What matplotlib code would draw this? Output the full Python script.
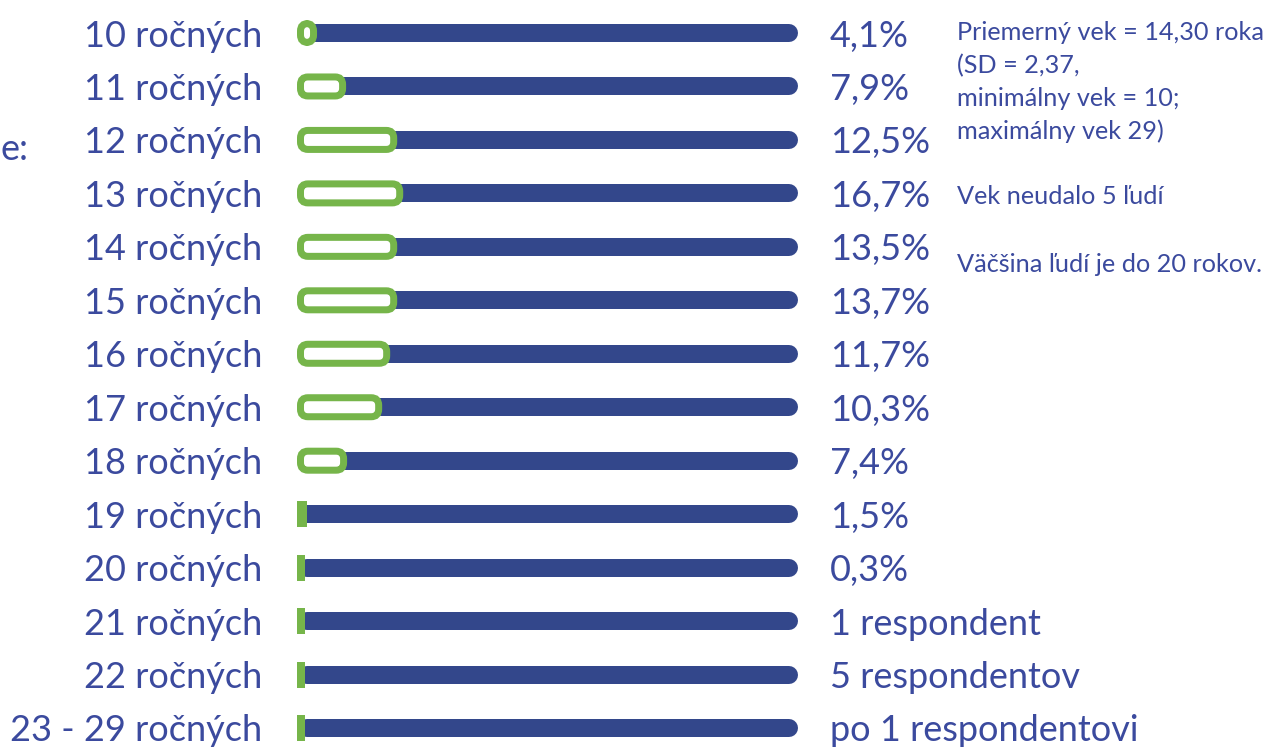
import matplotlib
matplotlib.use("Agg")
import matplotlib.pyplot as plt
from matplotlib.patches import FancyBboxPatch, Rectangle

# --- data ---
age_labels = ["10 ročných", "11 ročných", "12 ročných", "13 ročných", "14 ročných",
              "15 ročných", "16 ročných", "17 ročných", "18 ročných", "19 ročných",
              "20 ročných", "21 ročných", "22 ročných", "23 - 29 ročných"]
value_labels = ["4,1%", "7,9%", "12,5%", "16,7%", "13,5%", "13,7%", "11,7%",
                "10,3%", "7,4%", "1,5%", "0,3%", "1 respondent", "5 respondentov",
                "po 1 respondentovi"]
# length of the green part, in % of the track (as drawn in the original)
fill_len = [4.0, 9.8, 20.0, 21.2, 20.0, 20.0, 18.6, 17.0, 10.0, 2.0, 1.6, 1.6, 1.6, 1.6]
track_end = 98.2

notes = ["Priemerný vek = 14,30 roka", "(SD = 2,37,", "minimálny vek = 10;",
         "maximálny vek 29)"]
note_extra = ["Vek neudalo 5 ľudí", "Väčšina ľudí je do 20 rokov."]

BLUE = "#33478b"
GREEN = "#76b54a"
TEXT = "#3b4a9e"
FONT = "Lato"
BIG = 26
SMALL = 18.2

W, H = 1267, 747
fig = plt.figure(figsize=(W / 100, H / 100), dpi=100, facecolor="white")
ax = fig.add_axes([297 / W, 0, 501 / W, 1])

row_px = 53.46
px_x = 501 / 100.0          # pixels per x unit
ax.set_xlim(0, 100)
ax.set_ylim(13 + (H - 728) / row_px, -33 / row_px)

n = len(age_labels)
ys = list(range(n))

# blue track
for y in ys:
    ax.plot([2.0, track_end], [y, y], color=BLUE, lw=18 * 0.72,
            solid_capstyle="round", zorder=1)

# green part
stroke = 7.0
aspect = px_x / row_px
for y, f in zip(ys, fill_len):
    w_px = f * px_x
    if w_px < 14:
        ax.add_patch(Rectangle((0, y - 13 / row_px), f, 26 / row_px,
                               facecolor=GREEN, edgecolor="none", zorder=3))
    else:
        x0 = (stroke / 2) / px_x
        h = 19 / row_px
        ax.add_patch(FancyBboxPatch((x0, y - h / 2), f - 2 * x0, h,
                                    boxstyle="round,pad=0,rounding_size=%.3f" % (7.5 / px_x),
                                    mutation_aspect=aspect,
                                    facecolor="white", edgecolor=GREEN,
                                    lw=stroke * 0.72, zorder=3))

# value labels
for y, lab in zip(ys, value_labels):
    ax.text((830 - 297) / px_x, y, lab, color=TEXT, fontsize=BIG, family=FONT,
            ha="left", va="center_baseline", clip_on=False)

# age labels as y tick labels
ax.set_yticks(ys)
ax.set_yticklabels(age_labels, color=TEXT, fontsize=BIG, family=FONT,
                   va="center_baseline")
ax.tick_params(axis="y", length=0, pad=35 * 0.72)
ax.set_xticks([])
for s in ax.spines.values():
    s.set_visible(False)
ax.patch.set_visible(False)

# notes on the right
for k, t in enumerate(notes):
    fig.text(957 / W, 1 - (40 + 33 * k) / H, t, color=TEXT, fontsize=SMALL,
             family=FONT, ha="left", va="baseline")
fig.text(957 / W, 1 - 204 / H, note_extra[0], color=TEXT, fontsize=SMALL,
         family=FONT, ha="left", va="baseline")
fig.text(957 / W, 1 - 272 / H, note_extra[1], color=TEXT, fontsize=SMALL,
         family=FONT, ha="left", va="baseline")

# text at the left edge (only its end is visible in the original)
fig.text(1 / W, 1 - 160 / H, "e:", color=TEXT, fontsize=BIG, family=FONT,
         ha="left", va="baseline")

fig.savefig("out.png", dpi=100, facecolor="white")
